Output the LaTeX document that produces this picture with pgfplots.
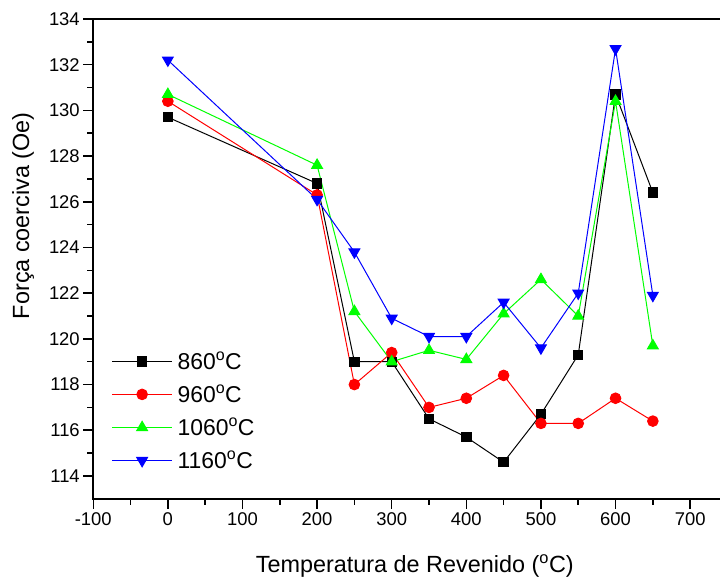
\documentclass[border=0pt]{standalone}
\usepackage{fontspec}
\setmainfont{Liberation Sans}
\usepackage{pgfplots}
\pgfplotsset{compat=1.18}
\definecolor{cblack}{RGB}{0,0,0}
\definecolor{cred}{RGB}{255,0,0}
\definecolor{cgreen}{RGB}{0,255,0}
\definecolor{cblue}{RGB}{0,0,255}
\begin{document}
\begin{tikzpicture}
\begin{axis}[
  name=ax,
  scale only axis,
  width=627bp, height=480bp,
  xmin=-100, xmax=740, ymin=113, ymax=134,
  clip=false,
  axis line style={draw=none},
  xtick={-100,0,100,200,300,400,500,600,700},
  ytick={114,116,118,120,122,124,126,128,130,132,134},
  minor x tick num=1, minor y tick num=1,
  xtick pos=bottom, ytick pos=left,
  tick align=outside,
  major tick length=10bp, minor tick length=6bp,
  tick style={black, line width=1.5bp},
  /pgf/number format/assume math mode=true,
  ticklabel style={font=\fontsize{18.5}{18.5}\selectfont},
  xlabel={Temperatura de Revenido (\textsuperscript{o}C)},
  ylabel={Força coerciva (Oe)},
  label style={font=\fontsize{23.5}{23.5}\selectfont},
  xlabel style={at={(axis description cs:0.513,-0.154)}, anchor=base},
  ylabel style={at={(axis description cs:-0.1025,0.59)}, anchor=base},
  legend style={at={(axis description cs:0.029,0.311)}, anchor=north west,
    draw=none, fill=none, font=\fontsize{23}{23}\selectfont,
    row sep=10bp, inner sep=0pt, cells={anchor=west},
    /tikz/every odd column/.append style={column sep=3bp}},
  legend image code/.code={\draw[mark repeat=2,mark phase=2] plot coordinates {(0bp,0bp) (30bp,0bp) (60bp,0bp)};},
]
\addplot[cblack, line width=1bp, mark=square*, mark size=4.7bp, mark options={solid}] coordinates {
(0,129.7) (200,126.8) (250,119.0) (300,119.0) (350,116.5) (400,115.7) (450,114.6) (500,116.7) (550,119.3) (600,130.7) (650,126.4)};
\addlegendentry{860\textsuperscript{o}C}
\addplot[cred, line width=1bp, mark=*, mark size=5.3bp, mark options={solid}] coordinates {
(0,130.4) (200,126.3) (250,118.0) (300,119.4) (350,117.0) (400,117.4) (450,118.4) (500,116.3) (550,116.3) (600,117.4) (650,116.4)};
\addlegendentry{960\textsuperscript{o}C}
\addplot[cgreen, line width=1bp, mark=triangle*, mark size=6.2bp, mark options={solid}] coordinates {
(0,130.7) (200,127.6) (250,121.2) (300,119.0) (350,119.5) (400,119.1) (450,121.1) (500,122.6) (550,121.0) (600,130.4) (650,119.7)};
\addlegendentry{1060\textsuperscript{o}C}
\addplot[cblue, line width=1bp, mark=triangle*, mark size=6.2bp, mark options={solid, rotate=180}] coordinates {
(0,132.2) (200,126.1) (250,123.8) (300,120.9) (350,120.1) (400,120.1) (450,121.6) (500,119.6) (550,122.0) (600,132.7) (650,121.9)};
\addlegendentry{1160\textsuperscript{o}C}
\draw[black, line width=1.8bp] (rel axis cs:1,1) -- (rel axis cs:0,1) -- (rel axis cs:0,0) -- (rel axis cs:1,0);
\end{axis}
\pgfresetboundingbox
\useasboundingbox ([xshift=-93.3bp,yshift=-80bp]ax.south west) rectangle ([yshift=19bp]ax.north east);
\end{tikzpicture}
\end{document}
